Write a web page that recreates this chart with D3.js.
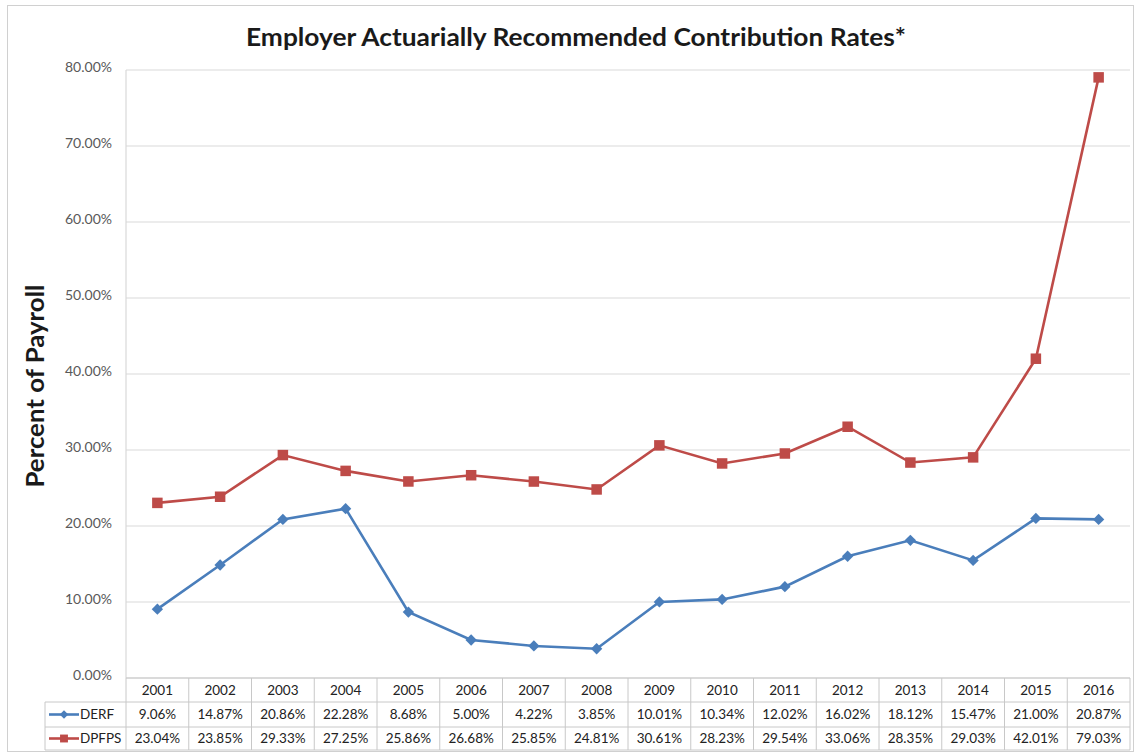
<!DOCTYPE html>
<html>
<head>
<meta charset="utf-8">
<script src="https://cdn.jsdelivr.net/npm/d3@7"></script>
<style>
  body { margin: 0; background: #fff; }
  text { font-family: Lato, "Open Sans", sans-serif; }
</style>
</head>
<body>
<div id="chart"></div>
<script>
// chart data
const years = ["2001","2002","2003","2004","2005","2006","2007","2008","2009","2010","2011","2012","2013","2014","2015","2016"];
const derf = [9.06, 14.87, 20.86, 22.28, 8.68, 5.00, 4.22, 3.85, 10.01, 10.34, 12.02, 16.02, 18.12, 15.47, 21.00, 20.87];
const dpfps = [23.04, 23.85, 29.33, 27.25, 25.86, 26.68, 25.85, 24.81, 30.61, 28.23, 29.54, 33.06, 28.35, 29.03, 42.01, 79.03];
const yTicks = [0, 10, 20, 30, 40, 50, 60, 70, 80];

const series = [
    {name: "DERF", values: derf, color: "#4A7EBB", rotate: 45, size: 8},
    {name: "DPFPS", values: dpfps, color: "#BE4B48", rotate: 0, size: 10.5}
];

const width = 1139, height = 754;
const plot = {left: 126, right: 1130, top: 70, bottom: 678};
const rows = [678, 702, 727, 750];
const legendLeft = 45;

const svg = d3.select("#chart").append("svg")
    .attr("width", width)
    .attr("height", height);

// outer frame
svg.append("rect")
    .attr("x", 7.5).attr("y", 5.5)
    .attr("width", 1126).attr("height", 746)
    .attr("fill", "none").attr("stroke", "#d0d0d0");

const x = d3.scaleBand().domain(years).range([plot.left, plot.right]);
const y = d3.scaleLinear().domain([0, 80]).range([plot.bottom, plot.top]);

// gridlines
svg.append("g")
    .selectAll("line")
    .data(yTicks)
    .join("line")
    .attr("x1", plot.left).attr("x2", plot.right)
    .attr("y1", d => y(d)).attr("y2", d => y(d))
    .attr("stroke", "#d9d9d9").attr("stroke-width", 1.2);

svg.append("line")
    .attr("x1", plot.left).attr("x2", plot.left)
    .attr("y1", plot.top).attr("y2", plot.bottom)
    .attr("stroke", "#d9d9d9").attr("stroke-width", 1.2);

// y axis labels
const yAxis = d3.axisLeft(y).tickValues(yTicks).tickSize(0).tickPadding(14)
    .tickFormat(d => d.toFixed(2) + "%");
svg.append("g")
    .attr("transform", `translate(${plot.left},0)`)
    .call(yAxis)
    .call(g => g.select(".domain").remove())
    .call(g => g.selectAll("text")
        .attr("font-size", 14)
        .attr("fill", "#595959")
        .attr("dy", "0.1em"));

// title
svg.append("text")
    .attr("x", 576).attr("y", 46)
    .attr("text-anchor", "middle")
    .attr("font-size", 25)
    .attr("font-weight", "bold")
    .attr("fill", "#1a1a1a")
    .attr("textLength", 660)
    .attr("lengthAdjust", "spacingAndGlyphs")
    .text("Employer Actuarially Recommended Contribution Rates*");

svg.append("text")
    .attr("transform", "translate(44,386) rotate(-90)")
    .attr("text-anchor", "middle")
    .attr("font-size", 24)
    .attr("font-weight", "bold")
    .attr("fill", "#1a1a1a")
    .attr("textLength", 203)
    .attr("lengthAdjust", "spacingAndGlyphs")
    .text("Percent of Payroll");

// lines and markers
const line = d3.line()
    .x((d, i) => x(years[i]) + x.bandwidth() / 2)
    .y(d => y(d));

series.forEach(s => {
    svg.append("path")
        .datum(s.values)
        .attr("fill", "none")
        .attr("stroke", s.color)
        .attr("stroke-width", 2.6)
        .attr("d", line);

    svg.append("g")
        .selectAll("rect")
        .data(s.values)
        .join("rect")
        .attr("transform", (d, i) => `translate(${x(years[i]) + x.bandwidth() / 2},${y(d)}) rotate(${s.rotate})`)
        .attr("x", -s.size / 2).attr("y", -s.size / 2)
        .attr("width", s.size).attr("height", s.size)
        .attr("fill", s.color);
});

// data table
const tg = svg.append("g");
const gridColor = "#c8c8c8";

// horizontal rules
[
    {x1: plot.left, y: rows[0]},
    {x1: legendLeft, y: rows[1]},
    {x1: legendLeft, y: rows[2]},
    {x1: legendLeft, y: rows[3]}
].forEach(r => {
    tg.append("line")
        .attr("x1", r.x1).attr("x2", plot.right)
        .attr("y1", r.y).attr("y2", r.y)
        .attr("stroke", gridColor);
});

// vertical rules
tg.selectAll("line.v")
    .data(years)
    .join("line")
    .attr("class", "v")
    .attr("x1", d => x(d) + x.bandwidth()).attr("x2", d => x(d) + x.bandwidth())
    .attr("y1", rows[0]).attr("y2", rows[3])
    .attr("stroke", gridColor);
tg.append("line")
    .attr("x1", plot.left).attr("x2", plot.left)
    .attr("y1", rows[0]).attr("y2", rows[3])
    .attr("stroke", gridColor);
tg.append("line")
    .attr("x1", legendLeft).attr("x2", legendLeft)
    .attr("y1", rows[1]).attr("y2", rows[3])
    .attr("stroke", gridColor);

// year header
tg.selectAll("text.yr")
    .data(years)
    .join("text")
    .attr("class", "yr")
    .attr("x", d => x(d) + x.bandwidth() / 2)
    .attr("y", (rows[0] + rows[1]) / 2)
    .attr("dy", "0.35em")
    .attr("text-anchor", "middle")
    .attr("font-size", 13.5)
    .attr("fill", "#222")
    .text(d => d);

// value rows
series.forEach((s, k) => {
    const cy = (rows[k + 1] + rows[k + 2]) / 2;
    tg.append("g")
        .selectAll("text")
        .data(s.values)
        .join("text")
        .attr("x", (d, i) => x(years[i]) + x.bandwidth() / 2)
        .attr("y", cy)
        .attr("dy", "0.35em")
        .attr("text-anchor", "middle")
        .attr("font-size", 13.5)
        .attr("fill", "#222")
        .text(d => d.toFixed(2) + "%");

    // legend key
    tg.append("line")
        .attr("x1", legendLeft + 4).attr("x2", legendLeft + 34)
        .attr("y1", cy).attr("y2", cy)
        .attr("stroke", s.color).attr("stroke-width", 2.6);
    const ks = s.size * 0.75;
    tg.append("rect")
        .attr("transform", `translate(${legendLeft + 19},${cy}) rotate(${s.rotate})`)
        .attr("x", -ks / 2).attr("y", -ks / 2)
        .attr("width", ks).attr("height", ks)
        .attr("fill", s.color);
    tg.append("text")
        .attr("x", legendLeft + 35)
        .attr("y", cy)
        .attr("dy", "0.35em")
        .attr("font-size", 13.5)
        .attr("fill", "#222")
        .text(s.name);
});
</script>
</body>
</html>
